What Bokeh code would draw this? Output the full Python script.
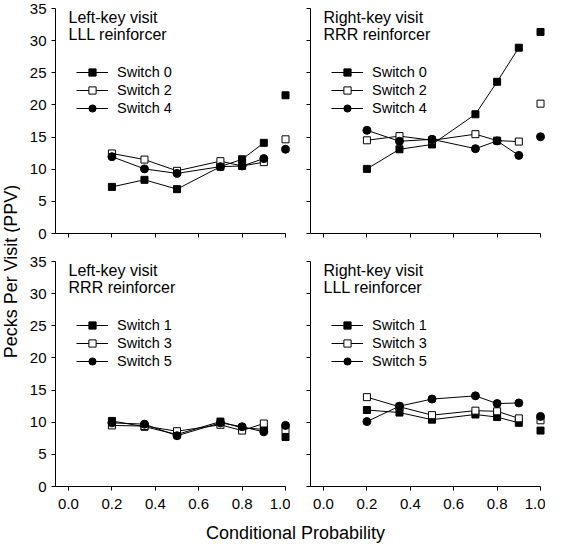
import math
from bokeh.plotting import figure
from bokeh.layouts import row, column
from bokeh.models import (Range1d, FixedTicker, PrintfTickFormatter, CustomJSTickFormatter,
                          Label, Legend, LegendItem)
from bokeh.embed import file_html
from bokeh.resources import INLINE

# ---------------- data ----------------
cond_prob = [0.2, 0.35, 0.5, 0.7, 0.8, 0.9, 1.0]

# Left-key visit, LLL reinforcer
tl_switch0 = [7.25, 8.35, 6.9, 10.4, 11.55, 14.1, 21.5]
tl_switch2 = [12.45, 11.5, 9.75, 11.25, 10.5, 11.1, 14.65]
tl_switch4 = [11.95, 10.05, 9.35, 10.4, 10.5, 11.65, 13.1]

# Right-key visit, RRR reinforcer
tr_switch0 = [10.05, 13.1, 13.85, 18.55, 23.6, 28.9, 31.35]
tr_switch2 = [14.5, 15.15, 14.5, 15.45, 14.45, 14.3, 20.2]
tr_switch4 = [16.05, 14.35, 14.65, 13.2, 14.4, 12.15, 15.05]

# Left-key visit, RRR reinforcer
bl_switch1 = [10.2, 9.3, 8.1, 10.1, 9.1, 8.9, 7.7]
bl_switch3 = [9.5, 9.4, 8.6, 9.6, 8.7, 9.8, 8.8]
bl_switch5 = [9.9, 9.7, 7.9, 9.9, 9.3, 8.5, 9.5]

# Right-key visit, LLL reinforcer
br_switch1 = [11.9, 11.5, 10.4, 11.2, 10.8, 9.9, 8.7]
br_switch3 = [13.9, 12.4, 11.1, 11.8, 11.7, 10.6, 10.3]
br_switch5 = [10.1, 12.5, 13.6, 14.1, 12.9, 13.0, 10.9]

x_ticks = [0.0, 0.2, 0.4, 0.6, 0.8, 1.0]
y_ticks = [0, 5, 10, 15, 20, 25, 30, 35]

y_label = "Pecks Per Visit (PPV)"
x_label = "Conditional Probability"

FONT = "Liberation Sans"

# ---------------- geometry ----------------
FRAME_W = 235
FRAME_H = 225
PX_PER_X = 217.0
X0 = -0.06
X1 = X0 + FRAME_W / PX_PER_X
Y_PX = FRAME_H / 35.0


def panel(title1, title2, names, series, left_border, top_border, bottom_border,
          show_xlabels, show_ylabels):
    p = figure(width=left_border + FRAME_W, height=top_border + FRAME_H + bottom_border,
               x_range=Range1d(X0, X1), y_range=Range1d(0, 35),
               output_backend="svg", toolbar_location=None,
               min_border_left=left_border, min_border_right=0,
               min_border_top=top_border, min_border_bottom=bottom_border)
    p.outline_line_color = None
    p.xgrid.visible = False
    p.ygrid.visible = False
    p.background_fill_color = "white"
    p.border_fill_color = "white"

    for ax in (p.xaxis[0], p.yaxis[0]):
        ax.axis_line_color = "black"
        ax.axis_line_width = 1
        ax.major_tick_line_color = "black"
        ax.major_tick_out = 4
        ax.major_tick_in = 0
        ax.minor_tick_line_color = None
        ax.major_label_text_font = FONT
        ax.major_label_text_font_size = "15px"
        ax.major_label_text_color = "black"

    p.xaxis[0].ticker = FixedTicker(ticks=x_ticks)
    p.xaxis[0].bounds = (X0, 1.0)
    p.xaxis[0].major_label_standoff = 8
    if show_xlabels:
        p.xaxis[0].formatter = PrintfTickFormatter(format="%.1f")
    else:
        p.xaxis[0].formatter = CustomJSTickFormatter(code="return ''")

    p.yaxis[0].ticker = FixedTicker(ticks=y_ticks)
    p.yaxis[0].major_label_standoff = 5
    if not show_ylabels:
        p.yaxis[0].formatter = CustomJSTickFormatter(code="return ''")

    markers = [("square", "black", 7), ("square", "white", 7), ("circle", "black", 8)]
    lines = []
    for vals in series:
        lines.append(p.line(cond_prob[:6], vals[:6], line_color="black", line_width=1))
    scatters = []
    for vals, (mk, fc, sz) in zip(series, markers):
        scatters.append(p.scatter(cond_prob, vals, marker=mk, size=sz,
                                  fill_color=fc, line_color="black", line_width=1))

    items = [LegendItem(label=n, renderers=[l, s]) for n, l, s in zip(names, lines, scatters)]
    legend = Legend(items=items, location=(21, 116), glyph_width=32, glyph_height=18,
                    label_height=18, spacing=0, padding=0, margin=0, label_standoff=9,
                    border_line_color=None, background_fill_alpha=0,
                    label_text_font=FONT, label_text_font_size="14.5px",
                    label_text_color="black")
    p.add_layout(legend)

    p.add_layout(Label(x=0.0, y=35, text=title1, text_baseline="top", text_align="left",
                       text_font=FONT, text_font_size="16px", text_color="black"))
    p.add_layout(Label(x=0.0, y=35 - 17.5 / Y_PX, text=title2, text_baseline="top",
                       text_align="left", text_font=FONT, text_font_size="16px",
                       text_color="black"))
    return p


TOP_ROW = (8, 14)
BOT_ROW = (14, 30)
tl = panel("Left-key visit", "LLL reinforcer", ["Switch 0", "Switch 2", "Switch 4"],
           [tl_switch0, tl_switch2, tl_switch4], 35, TOP_ROW[0], TOP_ROW[1], False, True)
tr = panel("Right-key visit", "RRR reinforcer", ["Switch 0", "Switch 2", "Switch 4"],
           [tr_switch0, tr_switch2, tr_switch4], 20, TOP_ROW[0], TOP_ROW[1], False, False)
bl = panel("Left-key visit", "RRR reinforcer", ["Switch 1", "Switch 3", "Switch 5"],
           [bl_switch1, bl_switch3, bl_switch5], 35, BOT_ROW[0], BOT_ROW[1], True, True)
br = panel("Right-key visit", "LLL reinforcer", ["Switch 1", "Switch 3", "Switch 5"],
           [br_switch1, br_switch3, br_switch5], 20, BOT_ROW[0], BOT_ROW[1], True, False)

YL_W = 20
YL_H = tl.height + bl.height
ylab = figure(width=YL_W, height=YL_H, x_range=Range1d(0, YL_W), y_range=Range1d(0, YL_H),
              x_axis_type=None, y_axis_type=None, output_backend="svg",
              toolbar_location=None, min_border=0)
ylab.outline_line_color = None
ylab.add_layout(Label(x=0, y=YL_H - 271, text=y_label, angle=math.pi / 2,
                      text_align="center", text_baseline="top", text_font=FONT,
                      text_font_size="18px", text_color="black"))

TOTAL_W = YL_W + tl.width + tr.width
XL_H = 28
xlab = figure(width=TOTAL_W, height=XL_H, x_range=Range1d(0, TOTAL_W), y_range=Range1d(0, XL_H),
              x_axis_type=None, y_axis_type=None, output_backend="svg",
              toolbar_location=None, min_border=0)
xlab.outline_line_color = None
xlab.add_layout(Label(x=295, y=12, text=x_label, text_align="center",
                      text_baseline="middle", text_font=FONT, text_font_size="18px",
                      text_color="black"))

layout = column(row(ylab, column(row(tl, tr), row(bl, br))), xlab)

open("out.html", "w").write(file_html(layout, INLINE))
